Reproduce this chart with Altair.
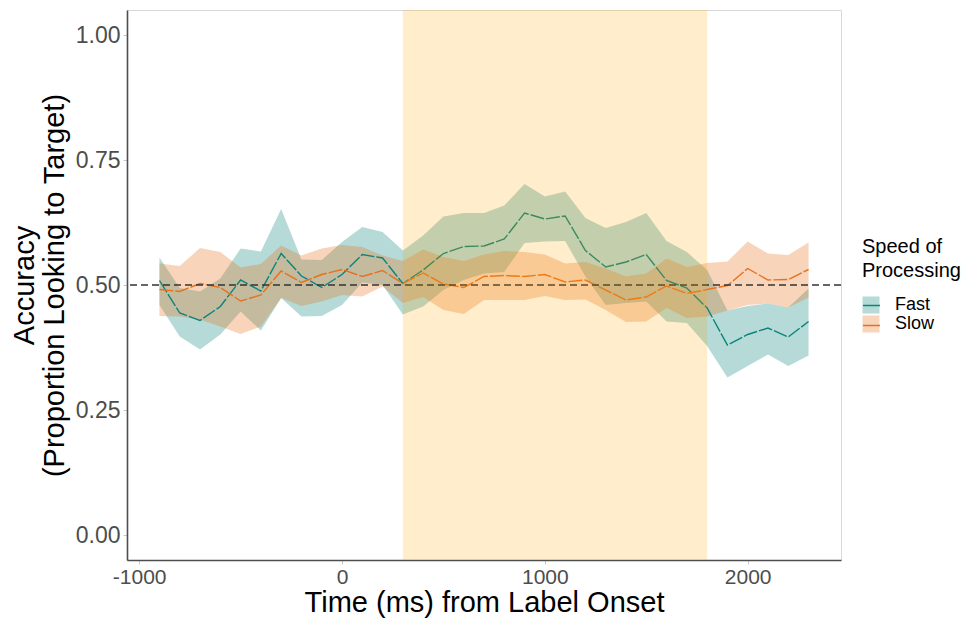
import altair as alt
import pandas as pd

# Time bins (ms from label onset)
times = [-900, -800, -700, -600, -500, -400, -300, -200, -100, 0, 100, 200, 300,
         400, 500, 600, 700, 800, 900, 1000, 1100, 1200, 1300, 1400, 1500, 1600,
         1700, 1800, 1900, 2000, 2100, 2200, 2300]

# Fast processors: mean accuracy and ribbon bounds
fast_mean = [0.509, 0.444, 0.429, 0.457, 0.510, 0.488, 0.563, 0.518, 0.495, 0.521, 0.561, 0.554, 0.503,
             0.530, 0.563, 0.577, 0.578, 0.592, 0.644, 0.632, 0.638, 0.569, 0.536, 0.546, 0.561, 0.509,
             0.494, 0.454, 0.380, 0.401, 0.414, 0.396, 0.427]
fast_hi = [0.555, 0.494, 0.487, 0.513, 0.573, 0.567, 0.652, 0.551, 0.550, 0.586, 0.616, 0.606, 0.569,
           0.599, 0.637, 0.644, 0.644, 0.659, 0.702, 0.677, 0.687, 0.634, 0.614, 0.626, 0.644, 0.588,
           0.566, 0.530, 0.449, 0.458, 0.463, 0.455, 0.493]
fast_lo = [0.460, 0.397, 0.371, 0.401, 0.447, 0.409, 0.474, 0.437, 0.438, 0.460, 0.505, 0.500, 0.441,
           0.457, 0.490, 0.510, 0.523, 0.526, 0.584, 0.587, 0.588, 0.517, 0.460, 0.464, 0.467, 0.427,
           0.424, 0.378, 0.315, 0.338, 0.361, 0.338, 0.359]

# Slow processors: mean accuracy and ribbon bounds
slow_mean = [0.491, 0.487, 0.503, 0.495, 0.468, 0.480, 0.528, 0.505, 0.521, 0.531, 0.517, 0.529, 0.503,
             0.524, 0.502, 0.495, 0.517, 0.519, 0.517, 0.521, 0.506, 0.510, 0.490, 0.470, 0.476, 0.498,
             0.483, 0.491, 0.499, 0.533, 0.510, 0.511, 0.531]
slow_hi = [0.543, 0.538, 0.574, 0.566, 0.535, 0.542, 0.579, 0.559, 0.573, 0.580, 0.576, 0.559, 0.548,
           0.571, 0.556, 0.548, 0.561, 0.568, 0.566, 0.561, 0.543, 0.546, 0.533, 0.517, 0.523, 0.553,
           0.536, 0.544, 0.547, 0.587, 0.563, 0.560, 0.585]
slow_lo = [0.438, 0.437, 0.431, 0.417, 0.402, 0.417, 0.474, 0.458, 0.467, 0.480, 0.477, 0.497, 0.464,
           0.476, 0.450, 0.442, 0.470, 0.470, 0.470, 0.478, 0.470, 0.471, 0.450, 0.426, 0.427, 0.454,
           0.434, 0.437, 0.449, 0.460, 0.463, 0.455, 0.475]

groups = ["Fast", "Slow"]
colors = ["#0b847b", "#e8711c"]
chance_level = [0.5]
window_start = [300]
window_end = [1800]
x_ticks = [-1000, 0, 1000, 2000]
y_ticks = [0.0, 0.25, 0.5, 0.75, 1.0]
x_domain = [-1060, 2460]
y_domain = [-0.05, 1.05]

rows = []
for g, m, lo, hi in [("Fast", fast_mean, fast_lo, fast_hi), ("Slow", slow_mean, slow_lo, slow_hi)]:
    for t, mv, lv, hv in zip(times, m, lo, hi):
        rows.append({"time": t, "group": g, "group_line": g, "mean": mv, "lo": lv, "hi": hv})
df = pd.DataFrame(rows)

FONT = "Liberation Sans"
LX, LY = 735, 227

x_scale = alt.Scale(domain=x_domain, nice=False, zero=False)
y_scale = alt.Scale(domain=y_domain, nice=False, zero=False)

x_axis = alt.Axis(values=x_ticks, labelExpr="datum.value", title="Time (ms) from Label Onset",
                  grid=False)
y_axis = alt.Axis(values=y_ticks, format=".2f",
                  title=["Accuracy", "(Proportion Looking to Target)"], grid=False)

# Ribbon legend (squares + labels) and line legend (strokes only) share one position
legend_common = dict(orient="none", legendX=LX, legendY=LY, title=["Speed of", "Processing"],
                     titleFontSize=20, titleFont=FONT, titleFontWeight="normal", titleLineHeight=24,
                     titlePadding=15, labelFontSize=18, labelFont=FONT, symbolSize=289,
                     rowPadding=1, labelOffset=15)

ribbons = alt.Chart(df).mark_area(fillOpacity=0.3, strokeWidth=0).encode(
    x=alt.X("time:Q", scale=x_scale, axis=x_axis),
    y=alt.Y("lo:Q", scale=y_scale, axis=y_axis),
    y2="hi:Q",
    fill=alt.Fill("group:N", scale=alt.Scale(range=colors),
                  legend=alt.Legend(symbolType="square", symbolOpacity=0.3, symbolStrokeWidth=0,
                                    labelColor="#000000", titleColor="#000000", **legend_common)),
    detail="group:N",
)

lines = alt.Chart(df).mark_line(strokeWidth=1.4, strokeDash=[14, 2]).encode(
    x=alt.X("time:Q", scale=x_scale),
    y=alt.Y("mean:Q", scale=y_scale),
    stroke=alt.Stroke("group_line:N", scale=alt.Scale(range=colors),
                      legend=alt.Legend(symbolType="stroke", symbolStrokeWidth=1.5,
                                        labelColor="rgba(0,0,0,0)", titleColor="rgba(0,0,0,0)",
                                        **legend_common)),
)

chance = alt.Chart(pd.DataFrame({"y": chance_level})).mark_rule(
    color="#333333", strokeWidth=1.3, strokeDash=[7, 4]
).encode(y=alt.Y("y:Q", scale=y_scale))

band = alt.Chart(pd.DataFrame({"x": window_start, "x2": window_end,
                               "y": [y_domain[0]], "y2": [y_domain[1]]})).mark_rect(
    color="#FFA500", opacity=0.2
).encode(x=alt.X("x:Q", scale=x_scale), x2="x2:Q", y=alt.Y("y:Q", scale=y_scale), y2="y2:Q")

chart = alt.layer(ribbons, lines, chance, band).properties(
    width=714, height=550, autosize="none",
    padding={"left": 127, "top": 10, "right": 137, "bottom": 60},
).configure_view(
    stroke="#d9d9d9", strokeWidth=1
).configure_axis(
    labelFont=FONT, titleFont=FONT, labelColor="#4d4d4d",
    titleFontWeight="normal", titleColor="#000000",
    domainColor="#4d4d4d", domainWidth=1.6, tickColor="#c8c8c8", tickSize=4, tickWidth=1,
    labelPadding=3,
).configure_axisX(
    titlePadding=1, labelPadding=2, labelFlush=False, labelFontSize=21, titleFontSize=29,
).configure_axisY(
    titlePadding=6, titleLineHeight=30, labelFlush=False, labelFontSize=23, titleFontSize=29,
)

chart.save("out.html", embed_options={"renderer": "svg", "actions": False})
